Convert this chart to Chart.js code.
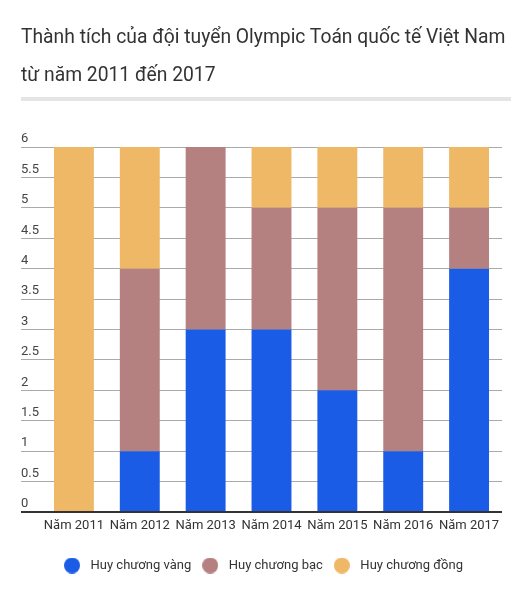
<!DOCTYPE html>
<html>
<head>
<meta charset="utf-8">
<script src="https://cdn.jsdelivr.net/npm/chart.js@4"></script>
<style>
  html, body { margin: 0; padding: 0; background: #fff; }
  #wrap { position: relative; width: 523px; height: 589px; overflow: hidden; }
  #title { position: absolute; left: 21px; top: 18px; font-family: Roboto, sans-serif; font-size: 19.3px; line-height: 38px; color: #333; white-space: nowrap; }
  #rule { position: absolute; left: 21px; top: 97px; width: 490px; height: 4px; background: #e5e5e5; }
  #c { position: absolute; left: 0; top: 0; }
</style>
</head>
<body>
<div id="wrap">
  <canvas id="c" width="523" height="589" style="width:523px;height:589px"></canvas>
  <div id="title">Thành tích của đội tuyển Olympic Toán quốc tế Việt Nam<br>từ năm 2011 đến 2017</div>
  <div id="rule"></div>
</div>
<script>
const categories = ['Năm 2011', 'Năm 2012', 'Năm 2013', 'Năm 2014', 'Năm 2015', 'Năm 2016', 'Năm 2017'];
const seriesNames = ['Huy chương vàng', 'Huy chương bạc', 'Huy chương đồng'];
const gold = [0, 1, 3, 3, 2, 1, 4];
const silver = [0, 3, 3, 2, 3, 4, 1];
const bronze = [6, 2, 0, 1, 1, 1, 1];
const colors = ['#1b5ce6', '#b58080', '#efb866'];
const yMin = 0, yMax = 6, yStep = 0.5;

function makeDot(color) {
  const c = document.createElement('canvas');
  c.width = 16; c.height = 16;
  const g = c.getContext('2d');
  g.fillStyle = color;
  g.beginPath(); g.arc(8, 8, 8, 0, Math.PI * 2); g.fill();
  return c;
}

Chart.defaults.font.family = 'Roboto, sans-serif';

new Chart(document.getElementById('c'), {
  type: 'bar',
  data: {
    labels: categories,
    datasets: [
      { label: seriesNames[0], data: gold, backgroundColor: colors[0] },
      { label: seriesNames[1], data: silver, backgroundColor: colors[1] },
      { label: seriesNames[2], data: bronze, backgroundColor: colors[2] }
    ]
  },
  options: {
    responsive: false,
    animation: false,
    datasets: { bar: { barPercentage: 0.606, categoryPercentage: 1, borderWidth: 0 } },
    layout: { padding: { left: 21, right: 21, top: 147, bottom: 7 } },
    plugins: {
      title: { display: false },
      tooltip: { enabled: false },
      legend: {
        position: 'bottom',
        labels: {
          usePointStyle: true,
          pointStyleWidth: 24,
          boxHeight: 13,
          padding: 7,
          color: '#333',
          font: { size: 13 },
          generateLabels(chart) {
            const items = Chart.defaults.plugins.legend.labels.generateLabels(chart);
            items.forEach(it => { it.pointStyle = makeDot(it.fillStyle); it.lineWidth = 0; });
            return items;
          }
        }
      }
    },
    scales: {
      x: {
        stacked: true,
        afterFit(scale) { scale.height = 40; },
        grid: { display: false, drawTicks: false },
        border: { display: false },
        ticks: { color: '#333', font: { size: 13 }, padding: 6, maxRotation: 0, autoSkip: false }
      },
      y: {
        stacked: true,
        min: yMin, max: yMax,
        afterFit(scale) { scale.width = 20; },
        border: { display: false },
        grid: {
          drawTicks: true,
          tickLength: 20,
          color: ctx => (ctx.tick && ctx.tick.value === 0) ? '#333' : '#aaa',
          lineWidth: ctx => (ctx.tick && ctx.tick.value === 0) ? 2 : 1
        },
        ticks: {
          stepSize: yStep,
          crossAlign: 'far',
          labelOffset: -8,
          padding: 0,
          color: '#444',
          font: { size: 13 },
          callback: v => String(v)
        }
      }
    }
  }
});
</script>
</body>
</html>
